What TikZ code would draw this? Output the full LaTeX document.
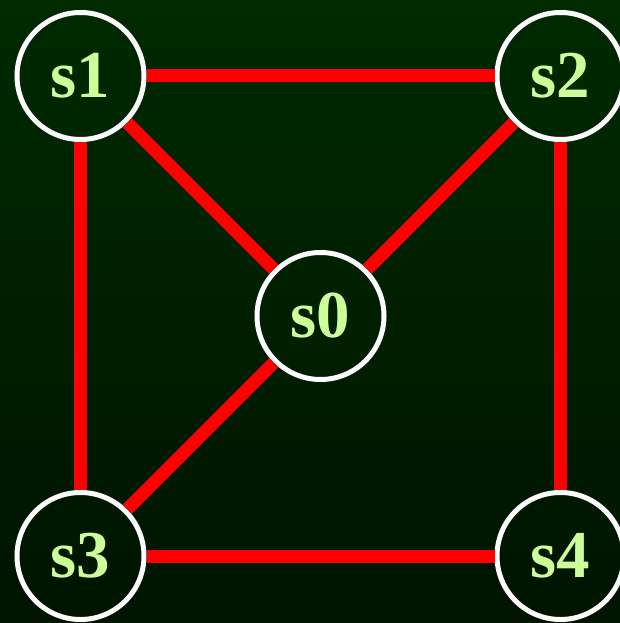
\documentclass[tikz,border=0pt]{standalone}
\usepackage{fontspec}
\setmainfont{Liberation Serif}
\definecolor{bgtop}{HTML}{002A00}
\definecolor{bgbot}{HTML}{001400}
\definecolor{lbl}{HTML}{CCFF99}
\begin{document}
\begin{tikzpicture}[x=1pt,y=-1pt,
  st/.style={circle,draw=white,line width=5pt,minimum size=127pt,inner sep=0pt,
    text=lbl,font=\fontsize{67}{72}\selectfont\bfseries},
  edge/.style={red,line width=13pt}]
\shade[top color=bgtop,bottom color=bgbot] (0,0) rectangle (620,623);
\useasboundingbox (0,0) rectangle (620,623);
\node[st] (s1) at (80.5,76) {s1};
\node[st] (s2) at (560.5,76) {s2};
\node[st] (s0) at (320.5,316) {s0};
\node[st] (s3) at (80.5,556) {s3};
\node[st] (s4) at (560.5,556) {s4};
\draw[edge] (s1) -- (s2);
\draw[edge] (s1) -- (s3);
\draw[edge] (s1) -- (s0);
\draw[edge] (s2) -- (s0);
\draw[edge] (s2) -- (s4);
\draw[edge] (s3) -- (s0);
\draw[edge] (s3) -- (s4);
\end{tikzpicture}
\end{document}
